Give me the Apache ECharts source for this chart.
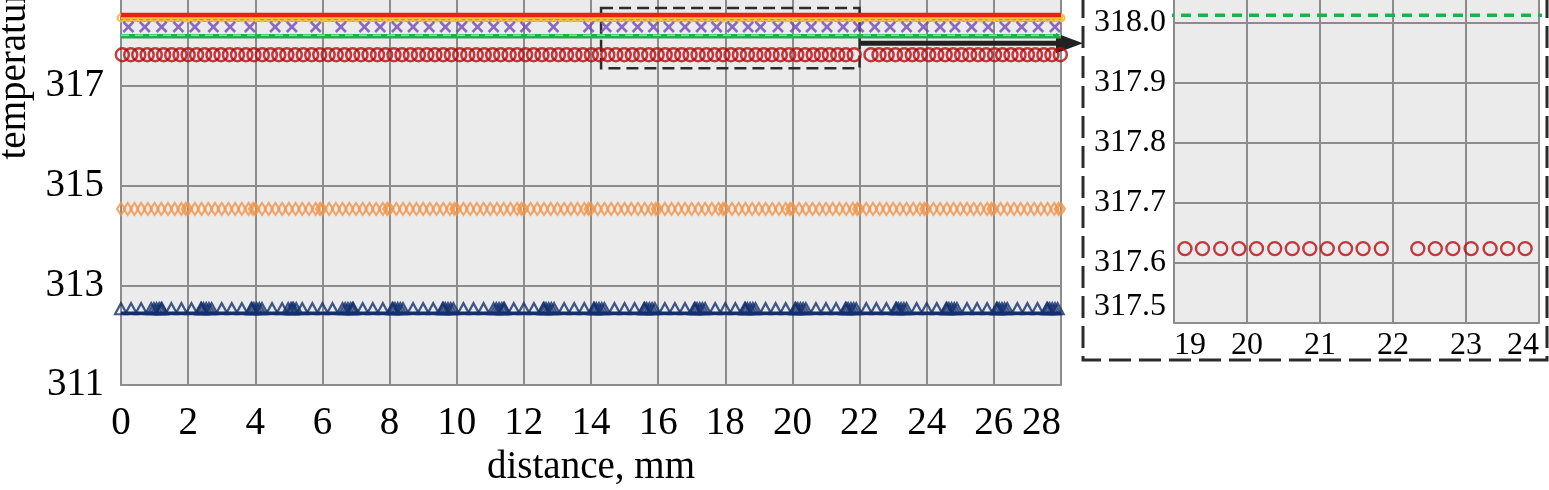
<!DOCTYPE html>
<html>
<head>
    <meta charset="utf-8"/>
    <title>temperature vs distance</title>
    <script type="text/javascript" src="https://cdn.jsdelivr.net/npm/echarts@6/dist/echarts.min.js"></script>
    <style>
        html, body {
            margin: 0;
            padding: 0;
            background: #fff;
        }

        #chart {
            width: 1549px;
            height: 490px;
        }
    </style>
</head>
<body>
<div id="chart"></div>

<script type="text/javascript">
    // distances (mm) of the markers
    let circleX = [
        0.04, 0.29, 0.53, 0.78, 1.02, 1.27, 1.51, 1.76, 2.00, 2.25, 2.49, 2.74, 2.98, 3.23, 3.47,
        3.72, 3.96, 4.21, 4.45, 4.70, 4.94, 5.19, 5.43, 5.68, 5.92, 6.17, 6.41, 6.66, 6.90, 7.15,
        7.39, 7.64, 7.88, 8.13, 8.37, 8.62, 8.86, 9.11, 9.35, 9.60, 9.84, 10.09, 10.33, 10.58, 10.82,
        11.07, 11.31, 11.56, 11.80, 12.05, 12.29, 12.54, 12.78, 13.03, 13.27, 13.52, 13.76, 14.01, 14.25, 14.50,
        14.74, 14.99, 15.23, 15.48, 15.72, 15.97, 16.21, 16.46, 16.70, 16.95, 17.19, 17.44, 17.68, 17.93, 18.17,
        18.42, 18.66, 18.91, 19.15, 19.39, 19.64, 19.89, 20.13, 20.38, 20.62, 20.86, 21.10, 21.35, 21.59, 21.84,
        22.34, 22.58, 22.82, 23.07, 23.33, 23.57, 23.81, 24.06, 24.30, 24.55, 24.79, 25.04, 25.28, 25.53, 25.77,
        26.02, 26.26, 26.51, 26.75, 27.00, 27.24, 27.49, 27.73, 27.98
    ];
    let diamondX = [
        0, 0.2, 0.4, 0.6, 0.8, 1.0, 1.2, 1.4, 1.6, 1.8, 1.93,
        2, 2.2, 2.4, 2.6, 2.8, 3.0, 3.2, 3.4, 3.6, 3.8, 3.93,
        4, 4.2, 4.4, 4.6, 4.8, 5.0, 5.2, 5.4, 5.6, 5.8, 5.93,
        6, 6.2, 6.4, 6.6, 6.8, 7.0, 7.2, 7.4, 7.6, 7.8, 7.93,
        8, 8.2, 8.4, 8.6, 8.8, 9.0, 9.2, 9.4, 9.6, 9.8, 9.93,
        10, 10.2, 10.4, 10.6, 10.8, 11.0, 11.2, 11.4, 11.6, 11.8, 11.93,
        12, 12.2, 12.4, 12.6, 12.8, 13.0, 13.2, 13.4, 13.6, 13.8, 13.93,
        14, 14.2, 14.4, 14.6, 14.8, 15.0, 15.2, 15.4, 15.6, 15.8, 15.93,
        16, 16.2, 16.4, 16.6, 16.8, 17.0, 17.2, 17.4, 17.6, 17.8, 17.93,
        18, 18.2, 18.4, 18.6, 18.8, 19.0, 19.2, 19.4, 19.6, 19.8, 19.93,
        20, 20.2, 20.4, 20.6, 20.8, 21.0, 21.2, 21.4, 21.6, 21.8, 21.93,
        22, 22.2, 22.4, 22.6, 22.8, 23.0, 23.2, 23.4, 23.6, 23.8, 23.93,
        24, 24.2, 24.4, 24.6, 24.8, 25.0, 25.2, 25.4, 25.6, 25.8, 25.93,
        26, 26.2, 26.4, 26.6, 26.8, 27.0, 27.2, 27.4, 27.6, 27.8, 27.93,
        28
    ];
    let crossX = [
        0.22, 0.71, 1.21, 1.71, 2.20, 2.75, 3.25, 3.84, 4.59, 5.09, 5.80, 6.55, 7.25, 7.72, 8.22,
        8.70, 9.18, 9.66, 10.15, 10.62, 11.10, 11.58, 12.05, 12.88, 13.93, 14.45, 14.92, 15.39, 15.86, 16.32,
        16.80, 17.28, 17.74, 18.21, 18.68, 19.05, 19.57, 20.09, 20.56, 21.03, 21.51, 21.97, 22.45, 22.91, 23.40,
        23.90, 24.40, 24.84, 25.34, 25.83, 26.33, 26.83, 27.32, 27.82
    ];
    let triangleX = [
        0, 0.3, 0.6, 0.9, 1.2, 1.5, 1.8, 2.1, 2.4, 2.7, 3.0, 3.3, 3.6, 3.9, 4.2, 4.5, 4.8, 5.1, 5.4, 5.7,
        6.0, 6.3, 6.6, 6.9, 7.2, 7.5, 7.8, 8.1, 8.4, 8.7, 9.0, 9.3, 9.6, 9.9, 10.2, 10.5, 10.8, 11.1, 11.4, 11.7,
        12.0, 12.3, 12.6, 12.9, 13.2, 13.5, 13.8, 14.1, 14.4, 14.7, 15.0, 15.3, 15.6, 15.9, 16.2, 16.5, 16.8, 17.1,
        17.4, 17.7, 18.0, 18.3, 18.6, 18.9, 19.2, 19.5, 19.8, 20.1, 20.4, 20.7, 21.0, 21.3, 21.6, 21.9, 22.2, 22.5,
        22.8, 23.1, 23.4, 23.7, 24.0, 24.3, 24.6, 24.9, 25.2, 25.5, 25.8, 26.1, 26.4, 26.7, 27.0, 27.3, 27.6, 27.9
    ];
    // the dark clusters of triangles
    let triangleDenseX = [
        0.98, 1.06, 1.14, 1.22, 2.38, 2.46, 2.54, 2.62, 3.88, 3.96, 4.04, 4.12,
        4.98, 5.06, 5.14, 5.22, 6.68, 6.76, 6.84, 6.92, 8.08, 8.16, 8.24, 8.32,
        9.58, 9.66, 9.74, 9.82, 11.18, 11.26, 11.34, 11.42, 12.58, 12.66, 12.74, 12.82,
        14.08, 14.16, 14.24, 14.32, 15.58, 15.66, 15.74, 15.82, 17.08, 17.16, 17.24, 17.32,
        18.58, 18.66, 18.74, 18.82, 20.08, 20.16, 20.24, 20.32, 21.58, 21.66, 21.74, 21.82,
        23.08, 23.16, 23.24, 23.32, 24.58, 24.66, 24.74, 24.82, 26.08, 26.16, 26.24, 26.32,
        27.58, 27.66, 27.74, 27.82
    ];
    let lineEnds = [0, 28];

    // temperature levels, K
    let redLineT = 318.42;
    let yellowT = 318.36;
    let tealT = 318.31;
    let crossT = 318.18;
    let greenDashT = 318.013;
    let greenT = 317.99;
    let circleT = 317.624;
    let diamondT = 314.53;
    let triangleT = 312.53;
    let navyLineT = 312.44;

    // zoom box and arrow in the main plot
    let zoomBoxX = [14.3, 22];
    let zoomBoxT = [317.35, 318.56];
    let arrowFrom = [22, 317.85];

    let font = 'Liberation Serif';
    let gridGray = '#8c8c8c';
    let navy = '#132f6e';
    let darkRed = '#b80b10';

    function pts(xs, t) {
        return xs.map(function (x) {
            return [x, t];
        });
    }

    let chart = echarts.init(document.getElementById('chart'));

    let axisLine = {lineStyle: {color: gridGray, width: 2}};
    let splitLine = {show: true, lineStyle: {color: gridGray, width: 2}};

    chart.setOption({
        animation: false,
        backgroundColor: '#fff',
        grid: [
            {
                left: 121, right: 488, top: -14, bottom: 105, outerBoundsMode: 'none',
                show: true, backgroundColor: '#ebebeb', borderWidth: 0
            },
            {
                left: 1174, right: 10, top: -37, bottom: 167, outerBoundsMode: 'none',
                show: true, backgroundColor: '#ebebeb', borderWidth: 0
            }
        ],
        xAxis: [
            {
                type: 'value',
                gridIndex: 0,
                min: 0,
                max: 28,
                interval: 2,
                name: 'distance, mm',
                nameLocation: 'middle',
                nameGap: 63,
                nameTextStyle: {fontFamily: font, fontSize: 39, color: '#000'},
                axisLine: axisLine,
                axisTick: {show: false},
                splitLine: splitLine,
                axisLabel: {fontFamily: font, fontSize: 39, color: '#000', margin: 19, alignMaxLabel: 'right'}
            },
            {
                type: 'value',
                gridIndex: 1,
                min: 19,
                max: 24,
                interval: 1,
                axisLine: axisLine,
                axisTick: {show: false},
                splitLine: splitLine,
                axisLabel: {
                    fontFamily: font, fontSize: 32, color: '#000', margin: 7,
                    alignMinLabel: 'left', alignMaxLabel: 'right'
                }
            }
        ],
        yAxis: [
            {
                type: 'value',
                gridIndex: 0,
                min: 311,
                max: 319,
                interval: 2,
                name: 'temperature, K',
                nameLocation: 'middle',
                nameRotate: 90,
                nameGap: 86,
                nameTextStyle: {fontFamily: font, fontSize: 39, color: '#000', align: 'left', padding: [0, 0, 0, 26]},
                axisLine: {show: true, lineStyle: {color: gridGray, width: 2}},
                axisTick: {show: false},
                splitLine: splitLine,
                axisLabel: {fontFamily: font, fontSize: 39, color: '#000', margin: 17}
            },
            {
                type: 'value',
                gridIndex: 1,
                min: 317.5,
                max: 318.1,
                interval: 0.1,
                axisLine: {show: true, lineStyle: {color: gridGray, width: 2}},
                axisTick: {show: false},
                splitLine: splitLine,
                axisLabel: {
                    fontFamily: font, fontSize: 32, color: '#000', margin: 8,
                    verticalAlignMinLabel: 'bottom',
                    formatter: function (v) {
                        return v.toFixed(1);
                    }
                }
            }
        ],
        series: [
            {
                type: 'line',
                data: pts(lineEnds, navyLineT),
                showSymbol: false,
                lineStyle: {color: navy, width: 3.5}
            },
            {
                type: 'scatter',
                data: pts(triangleX.concat(triangleDenseX), triangleT),
                symbol: 'triangle',
                symbolSize: [12, 11],
                itemStyle: {color: 'rgba(0,0,0,0)', borderColor: navy, borderWidth: 2.2}
            },
            {
                type: 'scatter',
                data: pts(diamondX, diamondT),
                symbol: 'diamond',
                symbolSize: [8, 12],
                itemStyle: {color: 'rgba(0,0,0,0)', borderColor: '#f0954a', borderWidth: 2.2}
            },
            {
                type: 'scatter',
                data: pts(circleX, circleT),
                symbol: 'circle',
                symbolSize: 13,
                itemStyle: {color: 'rgba(0,0,0,0)', borderColor: darkRed, borderWidth: 2.5},
                markArea: {
                    silent: true,
                    itemStyle: {color: 'rgba(0,0,0,0)', borderColor: '#2b2b2b', borderWidth: 2.5, borderType: [12, 6]},
                    data: [[{coord: [zoomBoxX[0], zoomBoxT[1]]}, {coord: [zoomBoxX[1], zoomBoxT[0]]}]]
                }
            },
            {
                type: 'line',
                data: pts(lineEnds, greenT),
                showSymbol: false,
                lineStyle: {color: '#1fb04a', width: 4.5}
            },
            {
                type: 'line',
                data: pts(lineEnds, greenDashT),
                showSymbol: false,
                lineStyle: {color: '#8fdca6', width: 1.5, type: [8, 6]}
            },
            {
                type: 'line',
                data: pts(diamondX, yellowT),
                symbol: 'circle',
                symbolSize: 7,
                showAllSymbol: true,
                itemStyle: {color: 'rgba(0,0,0,0)', borderColor: '#f5c13a', borderWidth: 2},
                lineStyle: {color: '#f5c13a', width: 5}
            },
            {
                type: 'line',
                data: pts(lineEnds, tealT),
                showSymbol: false,
                lineStyle: {color: '#7ba6c6', width: 3}
            },
            {
                type: 'scatter',
                data: pts(crossX, crossT),
                symbol: 'path://M0,1.6L1.6,0L5,3.4L8.4,0L10,1.6L6.6,5L10,8.4L8.4,10L5,6.6L1.6,10L0,8.4L3.4,5Z',
                symbolSize: 12,
                z: 3,
                itemStyle: {color: '#7448b5'}
            },
            {
                type: 'line',
                data: pts(lineEnds, redLineT),
                showSymbol: false,
                z: 4,
                lineStyle: {color: '#e8221a', width: 4.5}
            },
            // inset
            {
                type: 'line',
                xAxisIndex: 1,
                yAxisIndex: 1,
                data: pts(lineEnds, greenDashT),
                showSymbol: false,
                lineStyle: {color: '#1fb04a', width: 3.5, type: [10, 7]}
            },
            {
                type: 'scatter',
                xAxisIndex: 1,
                yAxisIndex: 1,
                data: pts(circleX, circleT),
                symbol: 'circle',
                symbolSize: 13,
                itemStyle: {color: 'rgba(0,0,0,0)', borderColor: darkRed, borderWidth: 2.4}
            }
        ]
    });

    // arrow from the zoom box to the inset frame
    let frameLeft = 1083, frameRight = 1547, frameBottom = 360;
    let p = chart.convertToPixel({gridIndex: 0}, arrowFrom);
    chart.setOption({
        graphic: [
            {
                type: 'rect',
                shape: {x: frameLeft, y: -20, width: frameRight - frameLeft, height: frameBottom + 20},
                style: {fill: 'none', stroke: '#2b2b2b', lineWidth: 3, lineDash: [22, 8]}
            },
            {
                type: 'line',
                shape: {x1: p[0], y1: p[1], x2: frameLeft - 24, y2: p[1]},
                style: {stroke: '#222', lineWidth: 5}
            },
            {
                type: 'polygon',
                shape: {points: [[frameLeft - 27, p[1] - 10], [frameLeft, p[1]], [frameLeft - 27, p[1] + 10]]},
                style: {fill: '#222'}
            }
        ]
    });
</script>
</body>
</html>
